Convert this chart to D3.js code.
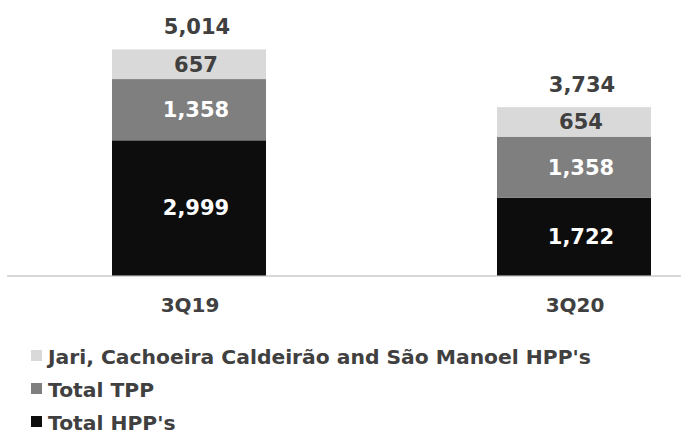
<!DOCTYPE html>
<html>
<head>
<meta charset="utf-8">
<script src="https://cdn.jsdelivr.net/npm/d3@7"></script>
<style>
  body { margin: 0; background: #fff; }
  text { font-family: "DejaVu Sans", Verdana, sans-serif; font-weight: bold; }
</style>
</head>
<body>
<svg id="chart" width="681" height="434"></svg>
<script>
// data
const quarters = ['3Q19', '3Q20'];
const seriesNames = ['Total HPP\'s', 'Total TPP', 'Jari, Cachoeira Caldeirão and São Manoel HPP\'s'];
const totalHPP = [2999, 1722];
const totalTPP = [1358, 1358];
const jariGroup = [657, 654];
const totals = [5014, 3734];

const colors = ['#0d0d0d', '#7f7f7f', '#d9d9d9'];
const labelColors = ['#ffffff', '#ffffff', '#404040'];

const rows = quarters.map((q, i) => ({
  quarter: q,
  hpp: totalHPP[i],
  tpp: totalTPP[i],
  jari: jariGroup[i]
}));
const keys = ['hpp', 'tpp', 'jari'];

const svg = d3.select('#chart');
const fmt = d3.format(',');

const x = d3.scaleBand()
  .domain(quarters)
  .range([112, 651])
  .paddingInner(0.6)
  .paddingOuter(0);

const y = d3.scaleLinear()
  .domain([0, 6000])
  .range([275.5, 5]);

const stacked = d3.stack().keys(keys)(rows);

// baseline
svg.append('line')
  .attr('x1', 7)
  .attr('x2', 681)
  .attr('y1', y(0) + 0.5)
  .attr('y2', y(0) + 0.5)
  .style('stroke', '#d9d9d9')
  .style('stroke-width', 2);

const layers = svg.selectAll('g.layer')
  .data(stacked)
  .join('g')
  .attr('class', 'layer');

layers.selectAll('rect')
  .data(d => d)
  .join('rect')
  .attr('x', d => x(d.data.quarter))
  .attr('y', d => y(d[1]))
  .attr('width', x.bandwidth())
  .attr('height', d => y(d[0]) - y(d[1]))
  .style('fill', function () { return colors[d3.select(this.parentNode).datum().index]; });

// segment labels
layers.each(function (layer) {
  d3.select(this).selectAll('text')
    .data(layer)
    .join('text')
    .attr('x', d => x(d.data.quarter) + x.bandwidth() / 2 + 7)
    .attr('y', d => (y(d[0]) + y(d[1])) / 2 + 7.5)
    .attr('text-anchor', 'middle')
    .style('font-size', '21px')
    .style('fill', labelColors[layer.index])
    .text(d => fmt(d[1] - d[0]));
});

// totals above bars
svg.append('g')
  .selectAll('text')
  .data(quarters)
  .join('text')
  .attr('x', (d, i) => x(d) + x.bandwidth() / 2 + 8)
  .attr('y', (d, i) => y(totals[i]) - 15.5)
  .attr('text-anchor', 'middle')
  .style('font-size', '21px')
  .style('fill', '#404040')
  .text((d, i) => fmt(totals[i]));

// category axis labels
svg.append('g')
  .selectAll('text')
  .data(quarters)
  .join('text')
  .attr('x', d => x(d) + x.bandwidth() / 2 + 1)
  .attr('y', 311.5)
  .attr('text-anchor', 'middle')
  .style('font-size', '20px')
  .style('fill', '#404040')
  .text(d => d);

// legend, top entry first
const legendOrder = [2, 1, 0];
const legend = svg.append('g')
  .selectAll('g')
  .data(legendOrder)
  .join('g')
  .attr('transform', (d, i) => `translate(31, ${350 + i * 33})`);

legend.append('rect')
  .attr('width', 11)
  .attr('height', 11)
  .style('fill', d => colors[d]);

legend.append('text')
  .attr('x', 17)
  .attr('y', 13.5)
  .style('font-size', '20.3px')
  .style('fill', '#404040')
  .text(d => seriesNames[d]);
</script>
</body>
</html>
